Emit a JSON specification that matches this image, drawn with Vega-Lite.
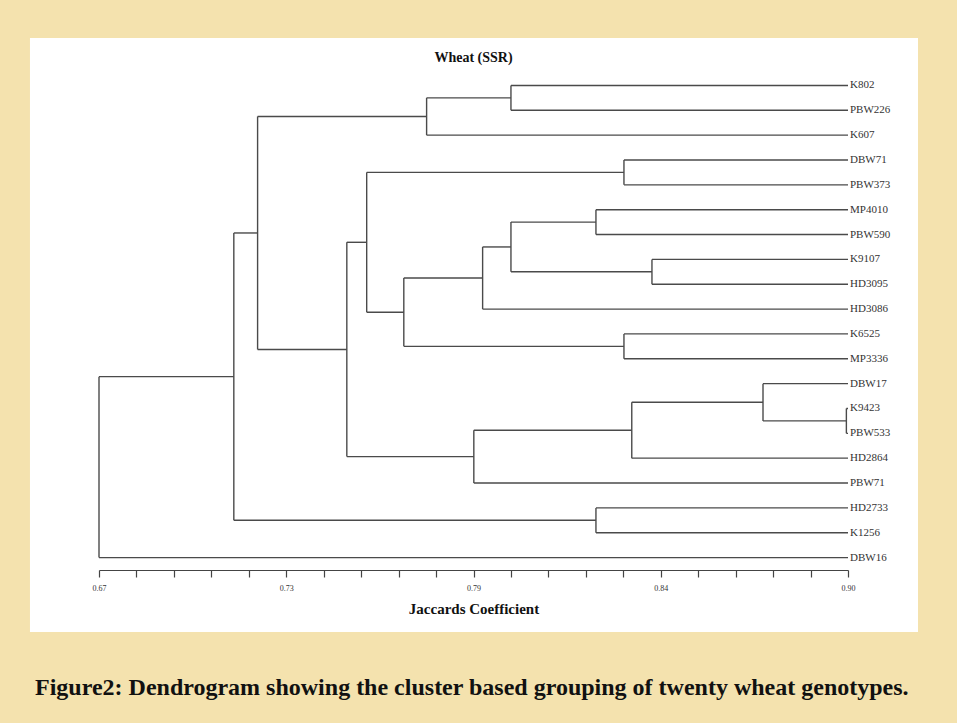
{
  "$schema": "https://vega.github.io/schema/vega-lite/v6.json",
  "width": 749,
  "height": 497,
  "autosize": {"type": "none"},
  "padding": {"left": 99, "top": 73, "right": 109, "bottom": 153},
  "background": "#F4E2AE",
  "title": {
    "text": "Wheat (SSR)",
    "font": "Liberation Serif",
    "fontSize": 14,
    "fontWeight": "bold",
    "color": "#111111",
    "anchor": "middle",
    "offset": -27,
    "zindex": 2
  },
  "config": {"view": {"stroke": null}},
  "data": {
    "values": [
      {"kind": "panel", "x": 0.6488, "x2": 0.9215, "y": -1.908, "y2": 21.995},
      {"kind": "caption", "x": 0.65035, "y": 24.25, "name": "Figure2: Dendrogram showing the cluster based grouping of twenty wheat genotypes."},
      {"kind": "leaf", "name": "K802", "x": 0.9, "y": 0},
      {"kind": "leaf", "name": "PBW226", "x": 0.9, "y": 1},
      {"kind": "leaf", "name": "K607", "x": 0.9, "y": 2},
      {"kind": "leaf", "name": "DBW71", "x": 0.9, "y": 3},
      {"kind": "leaf", "name": "PBW373", "x": 0.9, "y": 4},
      {"kind": "leaf", "name": "MP4010", "x": 0.9, "y": 5},
      {"kind": "leaf", "name": "PBW590", "x": 0.9, "y": 6},
      {"kind": "leaf", "name": "K9107", "x": 0.9, "y": 7},
      {"kind": "leaf", "name": "HD3095", "x": 0.9, "y": 8},
      {"kind": "leaf", "name": "HD3086", "x": 0.9, "y": 9},
      {"kind": "leaf", "name": "K6525", "x": 0.9, "y": 10},
      {"kind": "leaf", "name": "MP3336", "x": 0.9, "y": 11},
      {"kind": "leaf", "name": "DBW17", "x": 0.9, "y": 12},
      {"kind": "leaf", "name": "K9423", "x": 0.9, "y": 13},
      {"kind": "leaf", "name": "PBW533", "x": 0.9, "y": 14},
      {"kind": "leaf", "name": "HD2864", "x": 0.9, "y": 15},
      {"kind": "leaf", "name": "PBW71", "x": 0.9, "y": 16},
      {"kind": "leaf", "name": "HD2733", "x": 0.9, "y": 17},
      {"kind": "leaf", "name": "K1256", "x": 0.9, "y": 18},
      {"kind": "leaf", "name": "DBW16", "x": 0.9, "y": 19},
      {"kind": "seg", "x": 0.90, "x2": 0.7965, "y": 0, "y2": 0},
      {"kind": "seg", "x": 0.90, "x2": 0.7965, "y": 1, "y2": 1},
      {"kind": "seg", "x": 0.90, "x2": 0.7706, "y": 2, "y2": 2},
      {"kind": "seg", "x": 0.90, "x2": 0.8312, "y": 3, "y2": 3},
      {"kind": "seg", "x": 0.90, "x2": 0.8312, "y": 4, "y2": 4},
      {"kind": "seg", "x": 0.90, "x2": 0.8226, "y": 5, "y2": 5},
      {"kind": "seg", "x": 0.90, "x2": 0.8226, "y": 6, "y2": 6},
      {"kind": "seg", "x": 0.90, "x2": 0.8398, "y": 7, "y2": 7},
      {"kind": "seg", "x": 0.90, "x2": 0.8398, "y": 8, "y2": 8},
      {"kind": "seg", "x": 0.90, "x2": 0.7878, "y": 9, "y2": 9},
      {"kind": "seg", "x": 0.90, "x2": 0.8312, "y": 10, "y2": 10},
      {"kind": "seg", "x": 0.90, "x2": 0.8312, "y": 11, "y2": 11},
      {"kind": "seg", "x": 0.90, "x2": 0.8739, "y": 12, "y2": 12},
      {"kind": "seg", "x": 0.90, "x2": 0.8995, "y": 13, "y2": 13},
      {"kind": "seg", "x": 0.90, "x2": 0.8995, "y": 14, "y2": 14},
      {"kind": "seg", "x": 0.90, "x2": 0.8336, "y": 15, "y2": 15},
      {"kind": "seg", "x": 0.90, "x2": 0.7851, "y": 16, "y2": 16},
      {"kind": "seg", "x": 0.90, "x2": 0.8226, "y": 17, "y2": 17},
      {"kind": "seg", "x": 0.90, "x2": 0.8226, "y": 18, "y2": 18},
      {"kind": "seg", "x": 0.90, "x2": 0.67, "y": 19, "y2": 19},
      {"kind": "seg", "x": 0.7965, "x2": 0.7706, "y": 0.5, "y2": 0.5},
      {"kind": "seg", "x": 0.7706, "x2": 0.7187, "y": 1.25, "y2": 1.25},
      {"kind": "seg", "x": 0.8312, "x2": 0.7522, "y": 3.5, "y2": 3.5},
      {"kind": "seg", "x": 0.8226, "x2": 0.7965, "y": 5.5, "y2": 5.5},
      {"kind": "seg", "x": 0.8398, "x2": 0.7965, "y": 7.5, "y2": 7.5},
      {"kind": "seg", "x": 0.7965, "x2": 0.7878, "y": 6.5, "y2": 6.5},
      {"kind": "seg", "x": 0.7878, "x2": 0.7636, "y": 7.75, "y2": 7.75},
      {"kind": "seg", "x": 0.8312, "x2": 0.7636, "y": 10.5, "y2": 10.5},
      {"kind": "seg", "x": 0.7636, "x2": 0.7522, "y": 9.125, "y2": 9.125},
      {"kind": "seg", "x": 0.7522, "x2": 0.7461, "y": 6.3125, "y2": 6.3125},
      {"kind": "seg", "x": 0.8995, "x2": 0.8739, "y": 13.5, "y2": 13.5},
      {"kind": "seg", "x": 0.8739, "x2": 0.8336, "y": 12.75, "y2": 12.75},
      {"kind": "seg", "x": 0.8336, "x2": 0.7851, "y": 13.875, "y2": 13.875},
      {"kind": "seg", "x": 0.7851, "x2": 0.7461, "y": 14.9375, "y2": 14.9375},
      {"kind": "seg", "x": 0.7461, "x2": 0.7187, "y": 10.625, "y2": 10.625},
      {"kind": "seg", "x": 0.7187, "x2": 0.7114, "y": 5.9375, "y2": 5.9375},
      {"kind": "seg", "x": 0.8226, "x2": 0.7114, "y": 17.5, "y2": 17.5},
      {"kind": "seg", "x": 0.7114, "x2": 0.67, "y": 11.71875, "y2": 11.71875},
      {"kind": "seg", "x": 0.7965, "x2": 0.7965, "y": 0, "y2": 1},
      {"kind": "seg", "x": 0.7706, "x2": 0.7706, "y": 0.5, "y2": 2},
      {"kind": "seg", "x": 0.8312, "x2": 0.8312, "y": 3, "y2": 4},
      {"kind": "seg", "x": 0.8226, "x2": 0.8226, "y": 5, "y2": 6},
      {"kind": "seg", "x": 0.8398, "x2": 0.8398, "y": 7, "y2": 8},
      {"kind": "seg", "x": 0.7965, "x2": 0.7965, "y": 5.5, "y2": 7.5},
      {"kind": "seg", "x": 0.7878, "x2": 0.7878, "y": 6.5, "y2": 9},
      {"kind": "seg", "x": 0.8312, "x2": 0.8312, "y": 10, "y2": 11},
      {"kind": "seg", "x": 0.7636, "x2": 0.7636, "y": 7.75, "y2": 10.5},
      {"kind": "seg", "x": 0.7522, "x2": 0.7522, "y": 3.5, "y2": 9.125},
      {"kind": "seg", "x": 0.8995, "x2": 0.8995, "y": 13, "y2": 14},
      {"kind": "seg", "x": 0.8739, "x2": 0.8739, "y": 12, "y2": 13.5},
      {"kind": "seg", "x": 0.8336, "x2": 0.8336, "y": 12.75, "y2": 15},
      {"kind": "seg", "x": 0.7851, "x2": 0.7851, "y": 13.875, "y2": 16},
      {"kind": "seg", "x": 0.7461, "x2": 0.7461, "y": 6.3125, "y2": 14.9375},
      {"kind": "seg", "x": 0.7187, "x2": 0.7187, "y": 1.25, "y2": 10.625},
      {"kind": "seg", "x": 0.8226, "x2": 0.8226, "y": 17, "y2": 18},
      {"kind": "seg", "x": 0.7114, "x2": 0.7114, "y": 5.9375, "y2": 17.5},
      {"kind": "seg", "x": 0.67, "x2": 0.67, "y": 11.71875, "y2": 19}
    ]
  },
  "encoding": {
    "x": {
      "field": "x",
      "type": "quantitative",
      "scale": {"domain": [0.67, 0.90], "nice": false, "zero": false},
      "axis": {
        "title": "Jaccards Coefficient",
        "zindex": 1,
        "values": [0.67, 0.6815, 0.693, 0.7045, 0.716, 0.7275, 0.739, 0.7505, 0.762, 0.7735, 0.785, 0.7965, 0.808, 0.8195, 0.831, 0.8425, 0.854, 0.8655, 0.877, 0.8885, 0.9],
        "labelExpr": "datum.value < 0.671 ? '0.67' : abs(datum.value - 0.7275) < 0.0001 ? '0.73' : abs(datum.value - 0.785) < 0.0001 ? '0.79' : abs(datum.value - 0.8425) < 0.0001 ? '0.84' : datum.value > 0.899 ? '0.90' : ''",
        "grid": false,
        "domainColor": "#444444",
        "domainWidth": 1.2,
        "tickColor": "#444444",
        "tickWidth": 1.2,
        "tickSize": 7,
        "labelFont": "Liberation Serif",
        "labelFontSize": 8,
        "labelColor": "#333333",
        "labelPadding": 7,
        "labelFlush": false,
        "labelOverlap": false,
        "titleFont": "Liberation Serif",
        "titleFontSize": 15,
        "titleFontWeight": "bold",
        "titleColor": "#111111",
        "titlePadding": 9
      }
    },
    "y": {
      "field": "y",
      "type": "quantitative",
      "scale": {"domain": [-0.5, 19.5], "reverse": true, "nice": false, "zero": false},
      "axis": null
    }
  },
  "layer": [
    {
      "transform": [{"filter": "datum.kind === 'panel'"}],
      "mark": {"type": "rect", "fill": "#ffffff", "clip": false},
      "encoding": {
        "x2": {"field": "x2"},
        "y2": {"field": "y2"}
      }
    },
    {
      "transform": [{"filter": "datum.kind === 'seg'"}],
      "mark": {"type": "rule", "stroke": "#4a4a4a", "strokeWidth": 1.4},
      "encoding": {
        "x2": {"field": "x2"},
        "y2": {"field": "y2"}
      }
    },
    {
      "transform": [{"filter": "datum.kind === 'leaf'"}],
      "mark": {"type": "text", "align": "left", "baseline": "middle", "dx": 2, "font": "Liberation Serif", "fontSize": 11, "color": "#333333"},
      "encoding": {
        "text": {"field": "name", "type": "nominal"}
      }
    },
    {
      "transform": [{"filter": "datum.kind === 'caption'"}],
      "mark": {"type": "text", "align": "left", "baseline": "middle", "font": "Liberation Serif", "fontSize": 24, "fontWeight": "bold", "color": "#111111"},
      "encoding": {
        "text": {"field": "name", "type": "nominal"}
      }
    }
  ]
}
